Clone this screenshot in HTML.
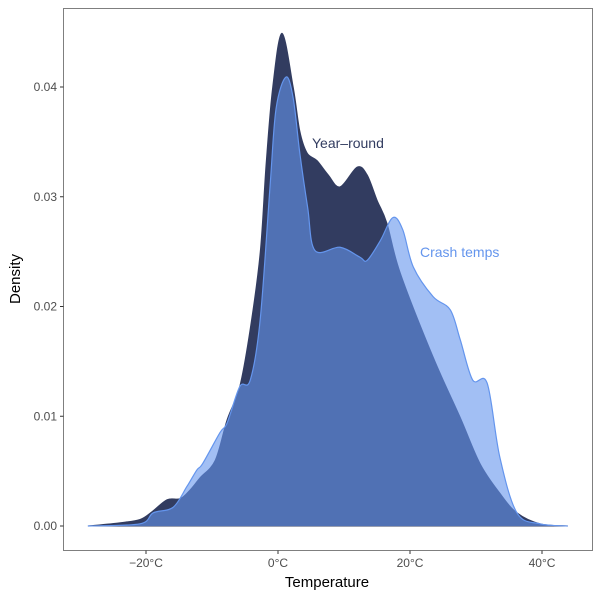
<!DOCTYPE html>
<html><head><meta charset="utf-8"><style>
html,body{margin:0;padding:0;background:#fff}
svg text{font-family:"Liberation Sans",sans-serif}
</style></head><body>
<svg id="chart" width="600" height="600" xmlns="http://www.w3.org/2000/svg"></svg>
<script>
const yearTemps=[-28.8,-23.9,-20.9,-19.1,-16.8,-14.8,-13.3,-11.8,-9.5,-7.7,-5.8,-4.2,-2.7,-1.8,-0.8,0.6,2.3,3.3,4.4,5.9,7.6,9.4,12.0,13.5,15.0,16.5,18.5,23.5,27.6,30.6,33.6,36.2,39.7,43.9];
const yearDensity=[0,0.0003,0.0006,0.0013,0.0024,0.0025,0.0033,0.0044,0.0060,0.0097,0.0127,0.018,0.0249,0.033,0.040,0.0449,0.040,0.036,0.034,0.0333,0.032,0.0309,0.0327,0.032,0.0297,0.0276,0.0231,0.0154,0.0099,0.0057,0.003,0.0012,0.0002,0];
const crashTemps=[-28.8,-20.9,-18.9,-15.9,-13.8,-12.3,-11.4,-8.8,-7.7,-5.8,-4.2,-2.7,-1.2,-0.3,1.2,2.3,3.3,4.5,5.6,9.4,12.4,13.5,15.5,17.4,18.9,20.5,23.5,26.1,27.6,29.5,31.7,33.6,36.2,39.7,43.9];
const crashDensity=[0,0.0002,0.0012,0.0017,0.0036,0.0051,0.0057,0.0085,0.0094,0.0127,0.0133,0.0188,0.031,0.038,0.0409,0.039,0.034,0.029,0.0251,0.0254,0.0245,0.0242,0.026,0.0281,0.027,0.0236,0.0209,0.0197,0.017,0.0133,0.013,0.0063,0.0012,0.0002,0];
const xTicks=[-20,0,20,40];
const xTickLabels=["\u221220\u00b0C","0\u00b0C","20\u00b0C","40\u00b0C"];
const yTicks=[0,0.01,0.02,0.03,0.04];
const yTickLabels=["0.00","0.01","0.02","0.03","0.04"];

const NS="http://www.w3.org/2000/svg";
const svg=document.getElementById('chart');
const xs=t=>278+6.6*t;
const ys=d=>526-10975*d;
function mk(tag,attrs,parent){const e=document.createElementNS(NS,tag);for(const k in attrs)e.setAttribute(k,attrs[k]);(parent||svg).appendChild(e);return e;}
function smooth(ts,ds){
  const p=ts.map((t,i)=>[xs(t),ys(ds[i])]);
  let d="M"+p[0][0]+","+p[0][1];
  for(let i=0;i<p.length-1;i++){
    const p0=p[i-1]||p[i],p1=p[i],p2=p[i+1],p3=p[i+2]||p[i+1];
    const c1=[p1[0]+(p2[0]-p0[0])/6,p1[1]+(p2[1]-p0[1])/6];
    const c2=[p2[0]-(p3[0]-p1[0])/6,p2[1]-(p3[1]-p1[1])/6];
    d+=" C"+c1[0]+","+Math.min(c1[1],526)+" "+c2[0]+","+Math.min(c2[1],526)+" "+p2[0]+","+p2[1];
  }
  return d;
}
const yd=smooth(yearTemps,yearDensity);
const a1=mk('path',{d:yd+" L"+xs(yearTemps[yearTemps.length-1])+","+ys(0)+" L"+xs(yearTemps[0])+","+ys(0)+"Z",fill:"#323c60",stroke:"#323c60","stroke-width":1});


const cd=smooth(crashTemps,crashDensity);
const a2=mk('path',{d:cd+" L"+xs(crashTemps[crashTemps.length-1])+","+ys(0)+" L"+xs(crashTemps[0])+","+ys(0)+"Z",fill:"rgba(100,149,237,0.6)",stroke:"none"});


const l2=mk('path',{d:cd,fill:"none",stroke:"#6495ED","stroke-width":1.2});



const border=mk('rect',{x:63.5,y:8.5,width:529,height:542,fill:"none",stroke:"#7f7f7f","stroke-width":1});



xTicks.forEach((v,i)=>{
  const x=xs(v);
  const tk=mk('line',{x1:x,x2:x,y1:550.5,y2:554,stroke:"#333","stroke-width":1});
  
  
  const tl=mk('text',{x:x,y:567,"text-anchor":"middle","font-size":12,fill:"#4d4d4d"});
  tl.textContent=xTickLabels[i];
  
  
});
yTicks.forEach((v,i)=>{
  const y=ys(v);
  const tk=mk('line',{x1:60,x2:63.5,y1:y,y2:y,stroke:"#333","stroke-width":1});
  
  
  const tl=mk('text',{x:57,y:y+4,"text-anchor":"end","font-size":12,fill:"#4d4d4d"});
  tl.textContent=yTickLabels[i];
  
  
});
</script>
<svg width="600" height="600" style="position:absolute;left:0;top:0;pointer-events:none" xmlns="http://www.w3.org/2000/svg">
<text x="327" y="587" text-anchor="middle" font-size="15" fill="#000">Temperature</text>
<text transform="translate(20,279) rotate(-90)" text-anchor="middle" font-size="15" fill="#000">Density</text>
<text x="312" y="148" font-size="14" fill="#323c60">Year–round</text>
<text x="420" y="257" font-size="14" fill="#6495ED">Crash temps</text>
</svg>
</body></html>
